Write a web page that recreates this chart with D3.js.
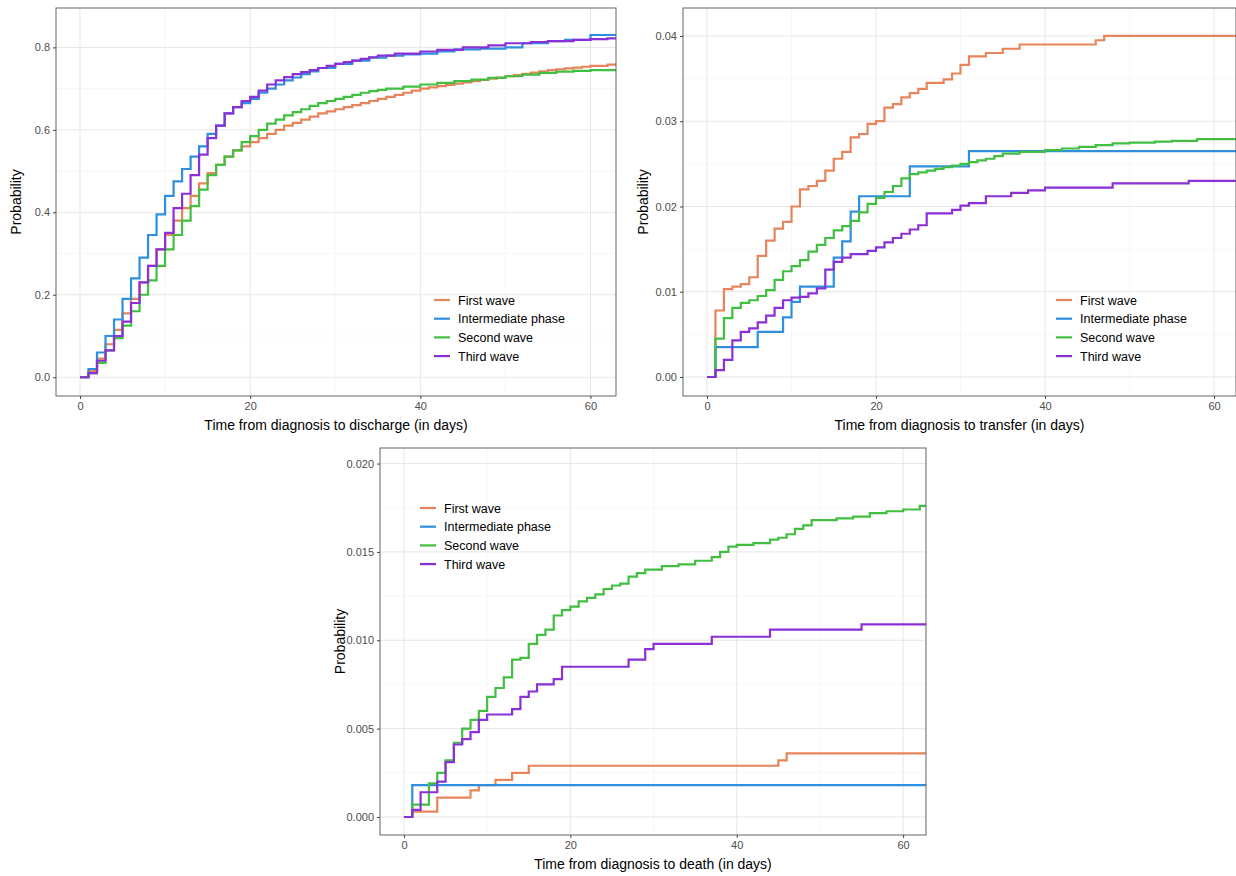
<!DOCTYPE html>
<html><head><meta charset="utf-8">
<script src="https://cdn.jsdelivr.net/npm/d3@7"></script>
<style>body{margin:0;background:#fff}text{font-family:Arial,"Liberation Sans",sans-serif}</style>
</head><body><svg id="c" width="1236" height="876"></svg>
<script>
const seriesNames = ['First wave', 'Intermediate phase', 'Second wave', 'Third wave']
const colors = ['#E8845C', '#2E8FDE', '#40BF40', '#8B2FD6']

// discharge
const dischargeFirst = [[0,0],[1,.015],[2,.045],[3,.08],[4,.115],[5,.155],[6,.19],[7,.23],[8,.27],[9,.31],[10,.345],[11,.38],[12,.41],[13,.44],[14,.47],[15,.495],[16,.515],[17,.535],[18,.55],[19,.56],[20,.57],[21,.58],[22,.59],[23,.60],[24,.61],[25,.617],[26,.625],[27,.632],[28,.64],[29,.645],[30,.65],[31,.655],[32,.66],[33,.665],[34,.67],[35,.675],[36,.68],[37,.685],[38,.69],[39,.695],[40,.70],[41,.703],[42,.706],[43,.709],[44,.712],[45,.715],[46,.718],[47,.721],[48,.724],[49,.727],[50,.73],[51,.733],[52,.736],[53,.739],[54,.742],[55,.745],[56,.747],[57,.749],[58,.751],[59,.753],[60,.755],[62,.758]]
const dischargeInter = [[0,0],[1,.02],[2,.06],[3,.10],[4,.14],[5,.19],[6,.24],[7,.29],[8,.345],[9,.395],[10,.44],[11,.475],[12,.505],[13,.535],[14,.56],[15,.59],[16,.61],[17,.64],[18,.655],[19,.665],[20,.675],[21,.69],[22,.70],[23,.71],[24,.72],[25,.727],[26,.735],[27,.742],[28,.75],[30,.76],[32,.768],[34,.775],[36,.78],[38,.783],[40,.785],[42,.79],[44,.795],[47,.797],[50,.80],[52,.81],[55,.815],[57,.818],[60,.83]]
const dischargeSecond = [[0,0],[1,.01],[2,.035],[3,.065],[4,.095],[5,.125],[6,.16],[7,.20],[8,.235],[9,.27],[10,.31],[11,.345],[12,.38],[13,.415],[14,.455],[15,.49],[16,.515],[17,.535],[18,.55],[19,.57],[20,.585],[21,.60],[22,.615],[23,.625],[24,.635],[25,.643],[26,.65],[27,.658],[28,.665],[29,.67],[30,.675],[31,.68],[32,.685],[33,.69],[34,.694],[35,.697],[36,.70],[38,.705],[40,.71],[42,.714],[44,.718],[46,.722],[48,.726],[50,.73],[52,.734],[54,.738],[56,.741],[58,.743],[60,.745]]
const dischargeThird = [[0,0],[1,.01],[2,.04],[3,.065],[4,.10],[5,.135],[6,.18],[7,.23],[8,.27],[9,.31],[10,.35],[11,.41],[12,.445],[13,.49],[14,.54],[15,.58],[16,.61],[17,.64],[18,.655],[19,.67],[20,.68],[21,.695],[22,.71],[23,.72],[24,.728],[25,.735],[26,.74],[27,.745],[28,.75],[29,.755],[30,.76],[31,.764],[32,.768],[33,.772],[34,.776],[35,.78],[37,.785],[40,.79],[42,.794],[45,.80],[48,.805],[50,.81],[53,.813],[55,.815],[58,.818],[60,.82],[62,.822]]

// transfer
const transferFirst = [[0,0],[1,.0078],[2,.0103],[3,.0106],[4,.0109],[5,.0117],[6,.0142],[7,.016],[8,.0174],[9,.0182],[10,.020],[11,.022],[12,.0224],[13,.023],[14,.0242],[15,.0256],[16,.0264],[17,.0281],[18,.0285],[19,.0297],[20,.030],[21,.0316],[22,.032],[23,.0328],[24,.0333],[25,.0338],[26,.0345],[28,.0349],[29,.0356],[30,.0366],[31,.0376],[33,.038],[35,.0385],[37,.039],[46,.0395],[47,.040]]
const transferInter = [[0,0],[1,.0035],[6,.0053],[9,.007],[10,.0088],[11,.0106],[15,.014],[16,.0159],[17,.0194],[18,.0212],[24,.0247],[31,.0265]]
const transferSecond = [[0,0],[1,.0045],[2,.0069],[3,.0081],[4,.0087],[5,.009],[6,.0095],[7,.0102],[8,.0114],[9,.0124],[10,.013],[11,.0137],[12,.0147],[13,.0155],[14,.0163],[15,.0172],[16,.0177],[17,.0183],[18,.0193],[19,.0203],[20,.021],[21,.0217],[22,.0224],[23,.0233],[24,.0238],[25,.024],[26,.0242],[27,.0244],[28,.0246],[29,.0248],[30,.025],[31,.0252],[32,.0254],[33,.0256],[34,.0259],[35,.0262],[37,.0264],[40,.0266],[42,.0268],[44,.027],[46,.0272],[48,.0274],[50,.0275],[53,.0276],[55,.0277],[58,.0279]]
const transferThird = [[0,0],[1,.0008],[2,.002],[3,.0043],[4,.0053],[5,.0057],[6,.0064],[7,.0072],[8,.0081],[9,.009],[10,.0093],[11,.0094],[12,.0098],[13,.0104],[14,.0126],[15,.0135],[16,.014],[17,.0144],[19,.0148],[20,.0152],[21,.0158],[22,.0163],[23,.0168],[24,.0173],[25,.0178],[26,.0192],[29,.0196],[30,.0201],[31,.0204],[33,.0212],[36,.0216],[38,.0219],[40,.0222],[48,.0227],[57,.023]]

// death
const deathFirst = [[0,0],[1,.0003],[4,.0011],[8,.0015],[9,.0018],[11,.0021],[13,.0025],[15,.0029],[45,.0032],[46,.0036]]
const deathInter = [[0,0],[1,.0018]]
const deathSecond = [[0,0],[1,.0007],[3,.0019],[4,.0025],[5,.0032],[6,.0042],[7,.005],[8,.0055],[9,.006],[10,.0068],[11,.0073],[12,.0079],[13,.0089],[14,.009],[15,.0098],[16,.0103],[17,.0106],[18,.0114],[19,.0117],[20,.0119],[21,.0122],[22,.0124],[23,.0126],[24,.0129],[25,.0131],[26,.0132],[27,.0136],[28,.0138],[29,.014],[31,.0142],[33,.0143],[35,.0145],[37,.0147],[38,.015],[39,.0153],[40,.0154],[42,.0155],[44,.0157],[45,.0158],[46,.016],[47,.0163],[48,.0165],[49,.0168],[52,.0169],[54,.017],[56,.0172],[58,.0173],[60,.0174],[62,.0176]]
const deathThird = [[0,0],[1,.0004],[2,.0014],[4,.002],[5,.0031],[6,.0041],[7,.0044],[8,.0048],[9,.0055],[10,.0058],[13,.0061],[14,.0068],[15,.0071],[16,.0075],[18,.0078],[19,.0085],[27,.0089],[29,.0095],[30,.0098],[37,.0102],[44,.0106],[55,.0109],[63,.0112]]

const xTicks = [0, 20, 40, 60]
const dischargeTicks = [0, 0.2, 0.4, 0.6, 0.8]
const transferTicks = [0, 0.01, 0.02, 0.03, 0.04]
const deathTicks = [0, 0.005, 0.01, 0.015, 0.02]

const svg = d3.select('#c')

function panel(cfg) {
  const {box, xDom, yDom, yTicks, fmt, series, xTitle, legend, id} = cfg
  const [x0, y0, x1, y1] = box
  const x = d3.scaleLinear().domain(xDom).range([x0, x1])
  const y = d3.scaleLinear().domain(yDom).range([y1, y0])
  const g = svg.append('g')
  g.append('clipPath').attr('id', id).append('rect')
    .attr('x', x0).attr('y', y0).attr('width', x1 - x0).attr('height', y1 - y0)

  const minorX = xTicks.slice(0, -1).map(t => t + 10).concat([-10])
  const step = yTicks[1] - yTicks[0]
  const minorY = yTicks.map(t => t + step / 2)
  const grid = g.append('g').attr('clip-path', `url(#${id})`)
  minorX.forEach(t => grid.append('line').attr('x1', x(t)).attr('x2', x(t)).attr('y1', y0).attr('y2', y1).attr('stroke', '#f2f2f2').attr('stroke-width', 0.6))
  minorY.forEach(t => grid.append('line').attr('y1', y(t)).attr('y2', y(t)).attr('x1', x0).attr('x2', x1).attr('stroke', '#f2f2f2').attr('stroke-width', 0.6))
  xTicks.forEach(t => grid.append('line').attr('x1', x(t)).attr('x2', x(t)).attr('y1', y0).attr('y2', y1).attr('stroke', '#e6e6e6').attr('stroke-width', 1))
  yTicks.forEach(t => grid.append('line').attr('y1', y(t)).attr('y2', y(t)).attr('x1', x0).attr('x2', x1).attr('stroke', '#e6e6e6').attr('stroke-width', 1))

  const line = d3.line().x(d => x(d[0])).y(d => y(d[1])).curve(d3.curveStepAfter)
  const lines = g.append('g').attr('clip-path', `url(#${id})`)
  series.forEach((s, i) => {
    const pts = s.concat([[xDom[1] + 1, s[s.length - 1][1]]])
    lines.append('path').attr('d', line(pts)).attr('fill', 'none')
      .attr('stroke', colors[i]).attr('stroke-width', 2.2)
  })

  g.append('rect').attr('x', x0).attr('y', y0).attr('width', x1 - x0).attr('height', y1 - y0)
    .attr('fill', 'none').attr('stroke', '#555').attr('stroke-width', 0.9)

  const ax = g.append('g').attr('transform', `translate(0,${y1})`)
    .call(d3.axisBottom(x).tickValues(xTicks).tickSize(3).tickFormat(d3.format('d')))
  const ay = g.append('g').attr('transform', `translate(${x0},0)`)
    .call(d3.axisLeft(y).tickValues(yTicks).tickSize(3).tickFormat(d3.format(fmt)))
  ;[ax, ay].forEach(a => {
    a.select('.domain').remove()
    a.selectAll('line').attr('stroke', '#444')
    a.selectAll('text').attr('fill', '#4d4d4d').attr('font-size', 11)
  })
  g.append('text').attr('x', (x0 + x1) / 2).attr('y', y1 + 34).attr('text-anchor', 'middle')
    .attr('font-size', 14).text(xTitle)
  g.append('text').attr('transform', `translate(${x0 - 35},${(y0 + y1) / 2}) rotate(-90)`)
    .attr('text-anchor', 'middle').attr('font-size', 14).text('Probability')

  const lg = g.append('g').attr('transform', `translate(${legend[0]},${legend[1]})`)
  seriesNames.forEach((n, i) => {
    lg.append('line').attr('x1', 0).attr('x2', 16).attr('y1', i * 18.7).attr('y2', i * 18.7)
      .attr('stroke', colors[i]).attr('stroke-width', 2.2)
    lg.append('text').attr('x', 24).attr('y', i * 18.7 + 4.5).attr('font-size', 12.5).text(n)
  })
}

panel({id: 'p1', box: [56, 8, 616, 396], xDom: [-2.82, 63], yDom: [-0.0455, 0.8955],
  yTicks: dischargeTicks, fmt: '.1f', xTitle: 'Time from diagnosis to discharge (in days)',
  series: [dischargeFirst, dischargeInter, dischargeSecond, dischargeThird], legend: [434, 300]})
panel({id: 'p2', box: [683, 8, 1236, 396], xDom: [-2.84, 62.6], yDom: [-0.00223, 0.04328],
  yTicks: transferTicks, fmt: '.2f', xTitle: 'Time from diagnosis to transfer (in days)',
  series: [transferFirst, transferInter, transferSecond, transferThird], legend: [1056, 300]})
panel({id: 'p3', box: [380, 448, 926, 835], xDom: [-2.88, 62.75], yDom: [-0.00102, 0.02088],
  yTicks: deathTicks, fmt: '.3f', xTitle: 'Time from diagnosis to death (in days)',
  series: [deathFirst, deathInter, deathSecond, deathThird], legend: [420, 508]})
</script></body></html>
